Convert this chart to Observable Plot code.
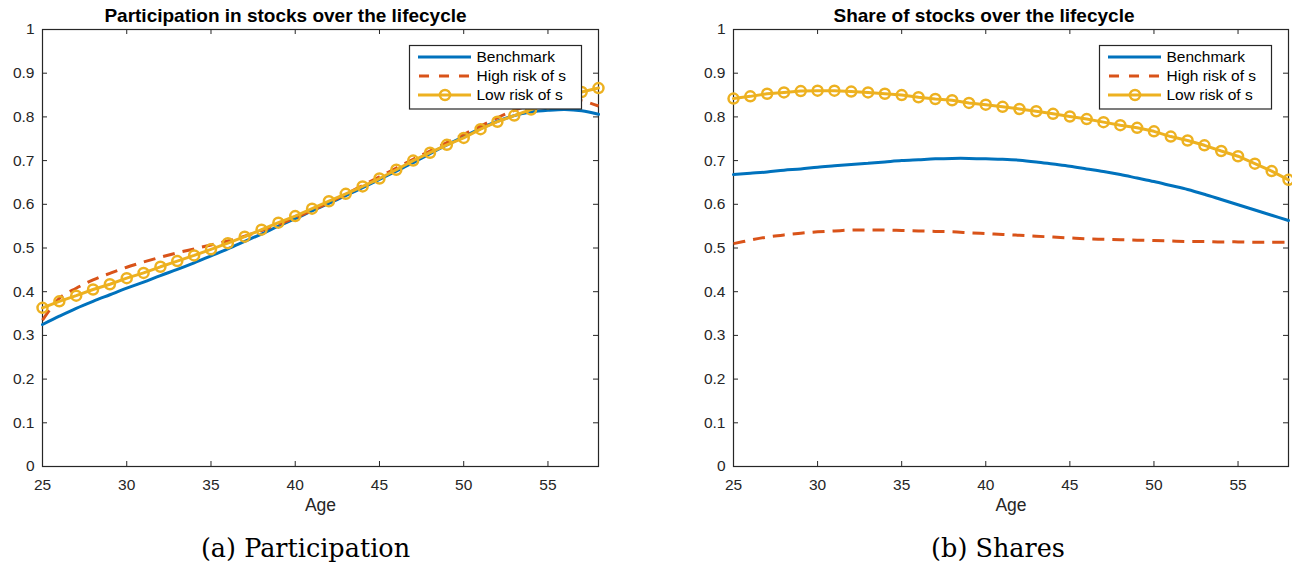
<!DOCTYPE html>
<html>
<head>
<meta charset="utf-8">
<script src="https://cdn.jsdelivr.net/npm/d3@7"></script>
<script src="https://cdn.jsdelivr.net/npm/@observablehq/plot@0.6"></script>
<style>
  html, body { margin: 0; padding: 0; background: #fff; }
  #wrap { position: relative; width: 1292px; height: 564px; overflow: hidden; background: #fff; }
  .panel { position: absolute; top: 0; }
</style>
</head>
<body>
<div id="wrap">
  <div class="panel" id="left" style="left:0px"></div>
  <div class="panel" id="right" style="left:646px"></div>
</div>
<script>
// ---------- data ----------
const ages = [25,26,27,28,29,30,31,32,33,34,35,36,37,38,39,40,41,42,43,44,45,46,47,48,49,50,51,52,53,54,55,56,57,58];

// (a) Participation
const partBenchmark = [0.325,0.344,0.362,0.378,0.393,0.408,0.422,0.437,0.451,0.466,0.482,0.498,0.515,0.532,0.550,0.567,0.585,0.602,0.620,0.638,0.657,0.676,0.695,0.716,0.736,0.755,0.773,0.790,0.803,0.811,0.815,0.817,0.814,0.806];
const partHighRisk  = [0.335,0.385,0.408,0.427,0.442,0.456,0.468,0.479,0.489,0.498,0.507,0.516,0.527,0.540,0.554,0.569,0.586,0.604,0.623,0.643,0.663,0.683,0.703,0.722,0.741,0.760,0.779,0.798,0.815,0.829,0.839,0.842,0.837,0.825];
const partLowRisk   = [0.363,0.378,0.391,0.405,0.417,0.431,0.443,0.457,0.470,0.483,0.497,0.511,0.526,0.542,0.558,0.573,0.590,0.607,0.624,0.641,0.659,0.679,0.700,0.718,0.736,0.752,0.772,0.789,0.803,0.817,0.831,0.844,0.857,0.866];

// (b) Shares
const shareBenchmark = [0.668,0.671,0.674,0.678,0.681,0.685,0.688,0.691,0.694,0.697,0.700,0.702,0.704,0.705,0.705,0.704,0.703,0.701,0.697,0.692,0.687,0.681,0.675,0.668,0.660,0.652,0.643,0.634,0.623,0.611,0.599,0.587,0.575,0.563];
const shareHighRisk  = [0.510,0.518,0.525,0.530,0.534,0.537,0.539,0.541,0.541,0.541,0.540,0.539,0.538,0.537,0.535,0.533,0.531,0.529,0.527,0.525,0.523,0.521,0.520,0.519,0.518,0.517,0.516,0.515,0.515,0.514,0.514,0.513,0.513,0.513];
const shareLowRisk   = [0.842,0.847,0.853,0.856,0.859,0.860,0.860,0.858,0.856,0.853,0.850,0.845,0.841,0.838,0.832,0.828,0.823,0.818,0.813,0.807,0.801,0.795,0.788,0.781,0.775,0.767,0.755,0.746,0.735,0.722,0.710,0.693,0.676,0.656];

const xTicks = [25,30,35,40,45,50,55];
const yTicks = [0,0.1,0.2,0.3,0.4,0.5,0.6,0.7,0.8,0.9,1];
const seriesNames = ["Benchmark","High risk of s","Low risk of s"];
const seriesColors = ["#0072BD","#D95319","#EDB120"];
const titles = ["Participation in stocks over the lifecycle","Share of stocks over the lifecycle"];
const captions = ["(a) Participation","(b) Shares"];
const xLabel = "Age";

// ---------- drawing ----------
const SANS = "'Liberation Sans', Arial, Helvetica, sans-serif";
const AXIS = "#262626";
const DASH = "12,8";

function rows(vals) { return ages.map((a, i) => ({age: a, v: vals[i]})); }

function panel(el, {bench, high, low, title, caption, marginLeft, marginRight, titleDx, captionDx}) {
  const W = 646, H = 564, mt = 29, mb = 98;
  const innerW = W - marginLeft - marginRight, innerH = H - mt - mb;
  const svg = Plot.plot({
    width: W, height: H,
    marginLeft, marginRight, marginTop: mt, marginBottom: mb,
    x: {domain: [25, 58]},
    y: {domain: [0, 1]},
    style: {fontFamily: SANS, fontSize: "15px", color: AXIS, background: "white", overflow: "visible"},
    marks: [
      Plot.axisX({ticks: xTicks, tickSize: 0, tickPadding: 12, label: null, fontSize: 15.5, tickFormat: d => String(d)}),
      Plot.axisY({ticks: yTicks, tickSize: 0, tickPadding: 8, label: null, fontSize: 15.5, tickFormat: d => d3.format("~g")(d)}),
      Plot.tickX(xTicks, {x: d => d, insetTop: innerH - 5, stroke: AXIS}),
      Plot.tickX(xTicks, {x: d => d, insetBottom: innerH - 5, stroke: AXIS}),
      Plot.tickY(yTicks, {y: d => d, insetRight: innerW - 5, stroke: AXIS}),
      Plot.tickY(yTicks, {y: d => d, insetLeft: innerW - 5, stroke: AXIS}),
      Plot.frame({stroke: AXIS, strokeWidth: 1.2}),
      Plot.line(rows(bench), {x: "age", y: "v", stroke: seriesColors[0], strokeWidth: 3, curve: "catmull-rom"}),
      Plot.line(rows(high), {x: "age", y: "v", stroke: seriesColors[1], strokeWidth: 3, strokeDasharray: DASH, strokeLinecap: "butt", curve: "catmull-rom"}),
      Plot.line(rows(low), {x: "age", y: "v", stroke: seriesColors[2], strokeWidth: 3}),
      Plot.dot(rows(low), {x: "age", y: "v", r: 5, stroke: seriesColors[2], strokeWidth: 2.5, fill: "none"}),
      Plot.text([title], {text: d => d, frameAnchor: "top", dx: titleDx, dy: -7.3, lineAnchor: "bottom", fontWeight: "bold", fontSize: 19, fill: "black"}),
      Plot.text([xLabel], {text: d => d, frameAnchor: "bottom", dy: 44, lineAnchor: "bottom", fontSize: 17.5, fill: AXIS}),
      Plot.text([caption], {text: d => d, frameAnchor: "bottom", dx: captionDx, dy: 90.7, lineAnchor: "bottom", fontSize: 25.5, fontFamily: "'DejaVu Serif', serif", fill: "black"})
    ]
  });

  // legend (MATLAB style box, top-right inside the axes)
  const frameRight = W - marginRight;
  const lgRight = frameRight - 17, lgLeft = lgRight - 172, lgTop = 45, lgBottom = 108.5;
  const g = d3.select(svg).append("g").attr("class", "legend");
  g.append("rect")
    .attr("x", lgLeft + 0.5).attr("y", lgTop + 0.5)
    .attr("width", lgRight - lgLeft).attr("height", lgBottom - lgTop)
    .attr("fill", "white").attr("stroke", AXIS).attr("stroke-width", 1.2);
  const rowY = [57, 76, 95];
  seriesNames.forEach((name, i) => {
    const y = rowY[i];
    const ln = g.append("line")
      .attr("x1", lgLeft + 9).attr("x2", lgLeft + 62)
      .attr("y1", y).attr("y2", y)
      .attr("stroke", seriesColors[i]).attr("stroke-width", 3);
    if (i === 1) ln.attr("stroke-dasharray", "10,10").attr("stroke-dashoffset", -1);
    if (i === 2) g.append("circle").attr("cx", lgLeft + 36).attr("cy", y).attr("r", 5)
      .attr("fill", "none").attr("stroke", seriesColors[i]).attr("stroke-width", 2.5);
    g.append("text").attr("x", lgLeft + 67.5).attr("y", y).attr("dy", "0.35em")
      .attr("text-anchor", "start")
      .attr("font-family", SANS).attr("font-size", 15.5).attr("fill", "black").text(name);
  });
  el.appendChild(svg);
}

panel(document.getElementById("left"), {
  bench: partBenchmark, high: partHighRisk, low: partLowRisk,
  title: titles[0], caption: captions[0],
  marginLeft: 42, marginRight: 48, titleDx: -35, captionDx: -15
});
panel(document.getElementById("right"), {
  bench: shareBenchmark, high: shareHighRisk, low: shareLowRisk,
  title: titles[1], caption: captions[1],
  marginLeft: 87, marginRight: 4, titleDx: -27, captionDx: -13
});
</script>
</body>
</html>
